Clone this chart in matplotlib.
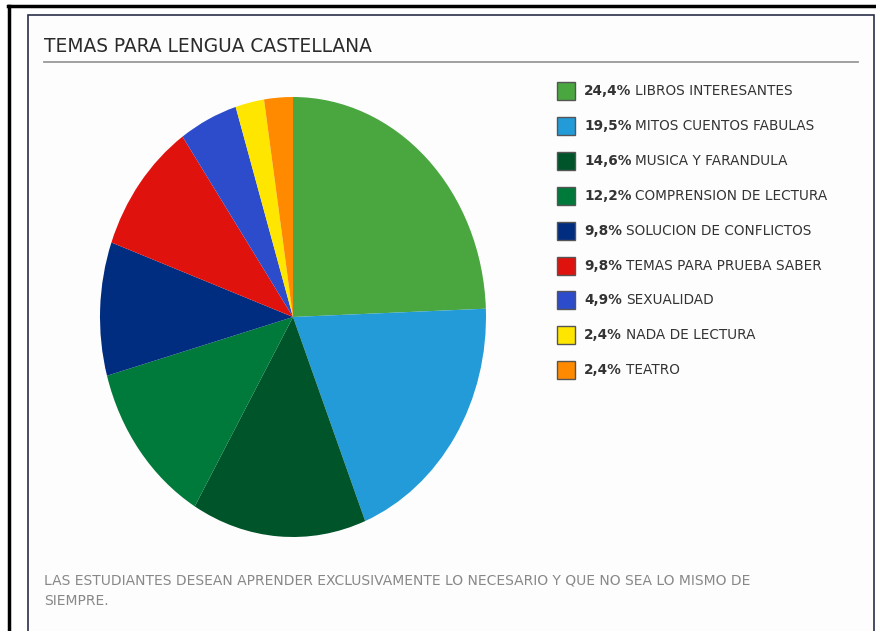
import matplotlib.pyplot as plt
from matplotlib.patches import Rectangle
from matplotlib.lines import Line2D

# data
categories = ["LIBROS INTERESANTES", "MITOS CUENTOS FABULAS", "MUSICA Y FARANDULA",
              "COMPRENSION DE LECTURA", "SOLUCION DE CONFLICTOS", "TEMAS PARA PRUEBA SABER",
              "SEXUALIDAD", "NADA DE LECTURA", "TEATRO"]
percents = [24.4, 19.5, 14.6, 12.2, 9.8, 9.8, 4.9, 2.4, 2.4]
colors = ["#4aa63f", "#229bd8", "#00542a", "#007a3a", "#002d80",
          "#e0120e", "#2d4ccc", "#ffe600", "#ff8a00"]

W, H = 876, 631
fig = plt.figure(figsize=(W / 100, H / 100), dpi=100)
fig.patch.set_facecolor("white")

# frames
fig.add_artist(Line2D([8 / W, 1], [1 - 6 / H, 1 - 6 / H], color="black", lw=2.5))
fig.add_artist(Line2D([9 / W, 9 / W], [0, 1 - 6 / H], color="black", lw=2.5))
fig.add_artist(Rectangle((28 / W, -0.01), (874 - 28) / W, (H - 15) / H + 0.01,
                         transform=fig.transFigure, facecolor="#fdfdfd",
                         edgecolor="#2a2f4a", lw=1.2, zorder=-1))

# title
fig.text(44 / W, 1 - 46 / H, "TEMAS PARA LENGUA CASTELLANA", fontsize=13.4,
         color="#2b2b2b", va="center", ha="left")
fig.add_artist(Line2D([44 / W, 858 / W], [1 - 62 / H, 1 - 62 / H], color="#999999", lw=1.3))

# pie (slightly elliptical like the original)
cx, cy, rx, ry = 293, 317, 193, 220
ax = fig.add_axes([(cx - rx) / W, 1 - (cy + ry) / H, 2 * rx / W, 2 * ry / H])
ax.pie(percents, colors=colors, startangle=90, counterclock=False,
       wedgeprops=dict(linewidth=0))
ax.set_aspect("auto")
ax.set_xlim(-1, 1)
ax.set_ylim(-1, 1)
ax.axis("off")

# legend
y0, dy = 91, 34.9
for i, (lab, p, c) in enumerate(zip(categories, percents, colors)):
    y = y0 + i * dy
    fig.add_artist(Rectangle((557 / W, 1 - (y + 9) / H), 18 / W, 18 / H,
                             transform=fig.transFigure, facecolor=c,
                             edgecolor="#555555", lw=1))
    pt = fig.text(584 / W, 1 - y / H, f"{p:.1f}%".replace(".", ","), fontsize=9.8,
                  fontweight="bold", color="#333333", va="center", ha="left")
    fig.canvas.draw()
    bb = pt.get_window_extent()
    fig.text((bb.x1 + 4) / W, 1 - y / H, lab, fontsize=9.8, color="#333333",
             va="center", ha="left")

# footer
fig.text(44 / W, 1 - 580 / H, "LAS ESTUDIANTES DESEAN APRENDER EXCLUSIVAMENTE LO NECESARIO Y QUE NO SEA LO MISMO DE",
         fontsize=10, color="#888888", va="center", ha="left")
fig.text(44 / W, 1 - 601 / H, "SIEMPRE.", fontsize=10, color="#888888", va="center", ha="left")

fig.savefig("out.png", dpi=100)
